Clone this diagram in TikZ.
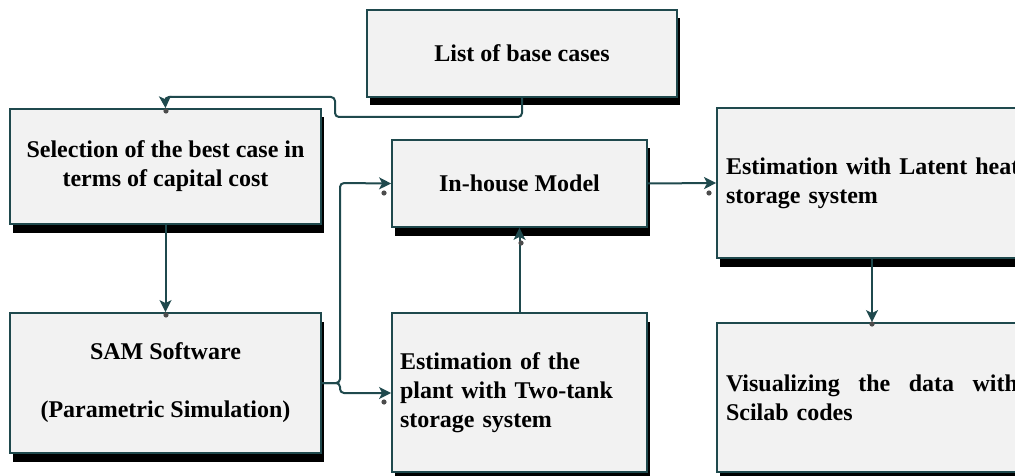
\documentclass[tikz,border=0pt]{standalone}
\usepackage{fontspec}
\setmainfont{Liberation Serif}
\usetikzlibrary{shadows,arrows.meta}
\definecolor{edge}{RGB}{31,73,77}
\definecolor{boxfill}{RGB}{242,242,242}
\tikzset{
  box/.style={draw=edge, fill=boxfill, line width=1.8pt, inner sep=0pt,
    font=\bfseries\fontsize{24}{29}\selectfont,
    drop shadow={shadow xshift=2.5pt, shadow yshift=-8.5pt, fill=black, opacity=1}},
  cbox/.style={box, align=center},
  lbox/.style={box, align=left, inner xsep=9pt},
  conn/.style={draw=edge, line width=2pt, rounded corners=4pt,
    -{Stealth[length=12pt,width=12pt,inset=3pt]}},
  pin/.style={fill=gray!60!black}
}
\begin{document}
\begin{tikzpicture}[x=1pt,y=-1pt]
\useasboundingbox (0,0) rectangle (1015,476);
\clip (0,0) rectangle (1015,476);
\node[cbox, minimum width=310pt, minimum height=87pt] (base) at (522,53.5) {List of base cases};
\node[cbox, minimum width=311pt, minimum height=115pt] (sel) at (165.5,166.5) {Selection of the best case in\\terms of capital cost};
\node[cbox, minimum width=255pt, minimum height=87pt] (inh) at (519.5,183.5) {In-house Model};
\node[lbox, text width=292pt, minimum height=150pt] (lat) at (872,183) {\mbox{Estimation with Latent heat}\\storage system};
\node[cbox, minimum width=311pt, minimum height=140pt] (sam) at (165.5,383) {SAM Software\\\mbox{}\\(Parametric Simulation)};
\node[lbox, inner xsep=8pt, text width=239pt, minimum height=159pt] (two) at (519.5,392.5) {Estimation of the\\plant with Two-tank\\storage system};
\node[lbox, text width=292pt, minimum height=149pt] (vis) at (872,397.5) {Visualizing\hfill the\hfill data\hfill with\\Scilab codes};
\coordinate (s1) at (522,117);
\coordinate (s2) at (335,117);
\coordinate (s3) at (335,97);
\coordinate (s4) at (165,97);
\coordinate (j1) at (340,383);
\coordinate (j2) at (340,183);
\coordinate (j3) at (340,393);
\draw[conn] (base.south) -- (s1) -- (s2) -- (s3) -- (s4) -- (sel.north);
\draw[conn] (sel.south) -- (sam.north);
\draw[conn] (sam.east) -- (j1) -- (j2) -- (inh.west);
\draw[conn] (sam.east) -- (j1) -- (j3) -- (two.west |- j3);
\draw[conn] (two.north) -- (inh.south);
\draw[conn] (inh.east) -- (lat.west);
\draw[conn] (lat.south) -- (vis.north);
\fill[pin] (166,111) circle (2.6pt);
\fill[pin] (166,315) circle (2.6pt);
\fill[pin] (384,193) circle (2.6pt);
\fill[pin] (709,193) circle (2.6pt);
\fill[pin] (384,402) circle (2.6pt);
\fill[pin] (521,243) circle (2.6pt);
\fill[pin] (872,324) circle (2.6pt);
\end{tikzpicture}
\end{document}
